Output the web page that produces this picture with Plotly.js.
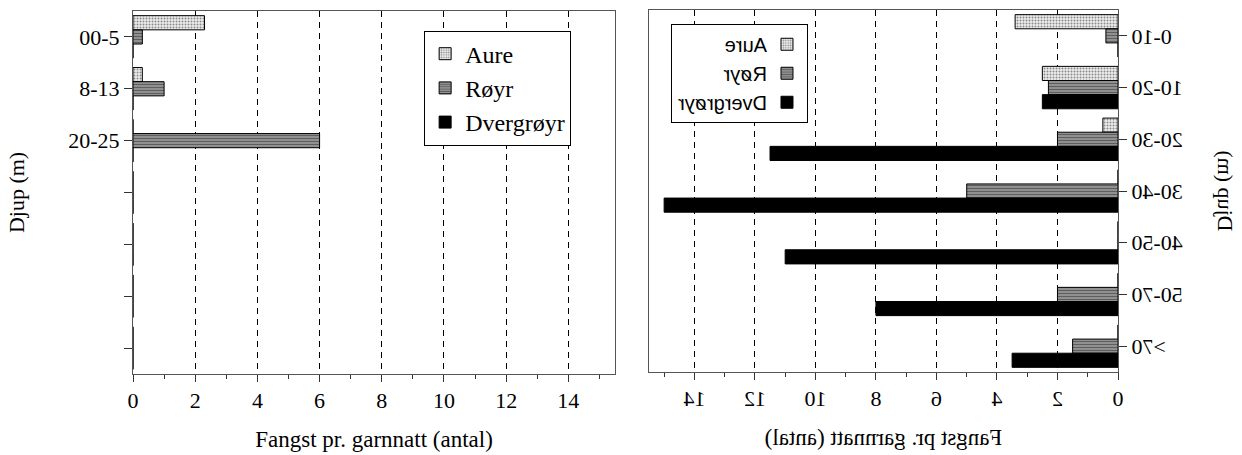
<!DOCTYPE html>
<html>
<head>
<meta charset="utf-8">
<script src="https://cdn.plot.ly/plotly-3.0.1.min.js"></script>
<style>
  html, body { margin: 0; padding: 0; background: #fff; }
  #wrap { position: relative; width: 1242px; height: 455px; overflow: hidden; }
  #left { position: absolute; left: 0; top: 0; width: 620px; height: 455px; }
  #right { position: absolute; left: 620px; top: 0; width: 622px; height: 455px; transform: scaleX(-1); transform-origin: center center; }
</style>
</head>
<body>
<div id="wrap">
  <div id="left"></div>
  <div id="right"></div>
</div>
<script>
// ---- Data: left panel ----
const leftLabels = ['00-5', '8-13', '20-25', '', '', '', ''];
const leftAure = [2.3, 0.3, 0, 0, 0, 0, 0];
const leftRoyr = [0.3, 1.0, 6.0, 0, 0, 0, 0];
const leftDverg = [0, 0, 0, 0, 0, 0, 0];

// ---- Data: right panel ----
const rightLabels = ['0-10', '10-20', '20-30', '30-40', '40-50', '50-70', '>70'];
const rightAure = [3.4, 2.5, 0.5, 0, 0, 0, 0];
const rightRoyr = [0.4, 2.3, 2.0, 5.0, 0, 2.0, 1.5];
const rightDverg = [0, 2.5, 11.5, 15.0, 11.0, 8.0, 3.5];

const seriesNames = ['Aure', 'Røyr', 'Dvergrøyr'];
const xTickVals = [0, 2, 4, 6, 8, 10, 12, 14];

const serif = 'Liberation Serif';
const sans = 'Liberation Sans';

const markers = [
  { color: '#e6e6e6', line: { color: '#000', width: 1 },
    pattern: { shape: '.', bgcolor: '#eeeeee', fgcolor: '#8a8a8a', size: 3, solidity: 0.35 } },
  { color: '#8c8c8c', line: { color: '#000', width: 1 },
    pattern: { shape: '-', bgcolor: '#9a9a9a', fgcolor: '#5e5e5e', size: 3, solidity: 0.45 } },
  { color: '#000000', line: { color: '#000', width: 1 } }
];

function makeTraces(labels, vals) {
  const idx = labels.map((_, i) => i);
  return vals.map((v, k) => ({
    type: 'bar', orientation: 'h',
    name: seriesNames[k], legendgroup: 'g' + k,
    x: v, y: idx,
    marker: markers[k],
    hoverinfo: 'x+name'
  }));
}

function makeLayout(labels, opts) {
  return {
    width: opts.width, height: 455,
    margin: { l: opts.l, r: opts.r, t: opts.t, b: opts.b, pad: 0 },
    paper_bgcolor: '#fff', plot_bgcolor: '#fff',
    barmode: 'group', bargap: 0.18, bargroupgap: 0,
    font: { family: serif, color: '#000', size: 22 },
    showlegend: true,
    legend: {
      x: opts.legX, y: opts.legY, xanchor: 'left', yanchor: 'top',
      bgcolor: '#fff', bordercolor: '#000', borderwidth: 1,
      font: { family: opts.legFont, size: opts.legSize, color: '#000' },
      traceorder: 'grouped', tracegroupgap: opts.legGap
    },
    xaxis: {
      range: [0, 15.5], tickmode: 'array', tickvals: xTickVals,
      ticks: 'outside', ticklen: 7, tickcolor: '#333', tickwidth: 1,
      minor: { dtick: 1, tick0: 0, ticks: 'outside', ticklen: 4, tickcolor: '#333', showgrid: false },
      showgrid: true, gridcolor: '#000', gridwidth: 1, griddash: '6px,5px',
      zeroline: false, showline: true, mirror: true, linecolor: '#555', linewidth: 1,
      tickfont: { family: serif, size: 22, color: '#000' },
      title: { text: 'Fangst pr. garnnatt (antal)', font: { family: serif, size: 23, color: '#000' }, standoff: 18 }
    },
    yaxis: {
      range: [labels.length - 0.5, -0.5],
      tickmode: 'array', tickvals: labels.map((_, i) => i), ticktext: labels,
      ticks: 'outside', ticklen: 8, tickcolor: '#333', tickwidth: 1,
      showgrid: false, zeroline: false, showline: true, mirror: true, linecolor: '#555', linewidth: 1,
      tickfont: { family: serif, size: 22, color: '#000' },
      title: { text: 'Djup (m)', font: { family: serif, size: 22, color: '#000' }, standoff: opts.yStand }
    }
  };
}

const cfg = { displayModeBar: false, staticPlot: true };

Plotly.newPlot('left', makeTraces(leftLabels, [leftAure, leftRoyr, leftDverg]),
  makeLayout(leftLabels, { width: 620, l: 133, r: 5, t: 11, b: 81, yStand: 37,
    legX: 0.604, legY: 0.946, legFont: serif, legSize: 24, legGap: 0 }), cfg);

Plotly.newPlot('right', makeTraces(rightLabels, [rightAure, rightRoyr, rightDverg]),
  makeLayout(rightLabels, { width: 622, l: 124, r: 29, t: 10, b: 83, yStand: 28,
    legX: 0.661, legY: 0.962, legFont: sans, legSize: 20, legGap: 0 }), cfg);
</script>
</body>
</html>
